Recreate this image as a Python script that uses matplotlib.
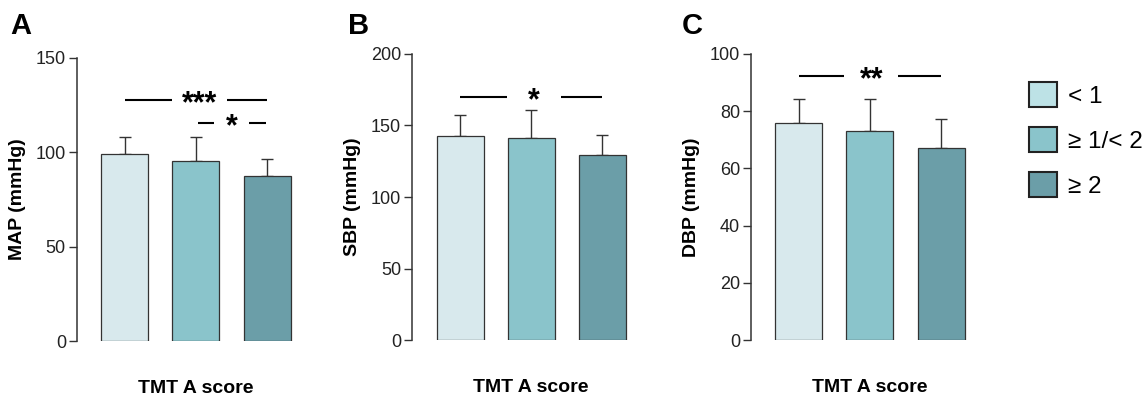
import matplotlib
matplotlib.use("Agg")
import matplotlib.pyplot as plt
from matplotlib.patches import Patch

plt.rcParams['font.family'] = ['Liberation Sans', 'DejaVu Sans']

# -------------------------
# Data
# -------------------------
groups = ['< 1', '≥ 1/< 2', '≥ 2']

map_mean = [99.1, 95.5, 87.4]
map_sd = [9.2, 12.4, 8.9]

sbp_mean = [142.6, 141.2, 129.5]
sbp_sd = [14.4, 19.3, 13.6]

dbp_mean = [75.9, 73.1, 67.0]
dbp_sd = [8.4, 11.1, 10.3]

panel_letters = ['A', 'B', 'C']
ylabels = ['MAP (mmHg)', 'SBP (mmHg)', 'DBP (mmHg)']
ylims = [150, 200, 100]
yticks = [[0, 50, 100, 150], [0, 50, 100, 150, 200], [0, 20, 40, 60, 80, 100]]

# significance brackets per panel: (x0, x1, y, label, text_x, gap)
sig_a = [(0, 2, 127.9, '***', 1.05, 0.38), (1.03, 1.98, 115.4, '*', 1.5, 0.24)]
sig_b = [(0, 2, 169.6, '*', 1.04, 0.38)]
sig_c = [(0, 2, 92.3, '**', 1.02, 0.38)]

COLORS = ['#d8e9ed', '#8ac4cb', '#6b9ea8']
LEGEND_COLORS = ['#bde2e6', '#8ac4cb', '#6b9ea8']
EDGE = '#333333'
STAR_FS = 22

# -------------------------
# Figure
# -------------------------
W, H = 1146, 397
fig = plt.figure(figsize=(W / 100, H / 100), dpi=100)

# axes geometry in pixels: left, y0 pixel, ytop pixel
geom = [(77, 341, 58), (412.3, 340.3, 53.7), (751, 340.3, 53.7)]
unit_px = 71.2
xlim = (-0.67, 2.67)
ax_w = (xlim[1] - xlim[0]) * unit_px

panels = [(map_mean, map_sd, sig_a), (sbp_mean, sbp_sd, sig_b), (dbp_mean, dbp_sd, sig_c)]

for i, (means, sds, sigs) in enumerate(panels):
    left, y0, ytop = geom[i]
    ax = fig.add_axes([left / W, 1 - y0 / H, ax_w / W, (y0 - ytop) / H])
    x = list(range(len(means)))
    ax.bar(x, means, width=0.66, color=COLORS, edgecolor=EDGE, linewidth=0.9, zorder=2)
    ax.errorbar(x, means, yerr=[[0] * len(sds), sds], fmt='none', ecolor=EDGE,
                elinewidth=1.0, capsize=4, capthick=1.0, zorder=1)

    ax.set_xlim(*xlim)
    ax.set_ylim(0, ylims[i])
    ax.set_yticks(yticks[i])
    ax.set_xticks([])
    for s in ['top', 'right', 'bottom']:
        ax.spines[s].set_visible(False)
    ax.spines['left'].set_color(EDGE)
    ax.spines['left'].set_linewidth(1.1)
    ax.tick_params(axis='y', direction='out', length=6, width=1.0, color=EDGE,
                   labelsize=13, pad=2, labelcolor='#222222')
    ax.set_ylabel(ylabels[i], fontsize=14, fontweight='bold', labelpad=7)
    ax.set_xlabel('TMT A score', fontsize=14, fontweight='bold', labelpad=28)

    # significance lines
    for (x0, x1, y, lab, tx, gap) in sigs:
        ax.plot([x0, tx - gap], [y, y], color='black', lw=1.5, solid_capstyle='butt', clip_on=False)
        ax.plot([tx + gap, x1], [y, y], color='black', lw=1.5, solid_capstyle='butt', clip_on=False)
        ax.annotate(lab, (tx, y), xytext=(0, -0.4 * STAR_FS), textcoords='offset points',
                    ha='center', va='baseline', fontsize=STAR_FS, fontweight='bold')

    # panel letter
    fig.text([10, 348, 682][i] / W, 1 - 34 / H, panel_letters[i], fontsize=21,
             fontweight='bold', ha='left', va='baseline')

handles = [Patch(facecolor=c, edgecolor='#222222', linewidth=1.5) for c in LEGEND_COLORS]
fig.legend(handles, groups, loc='upper left', bbox_to_anchor=(1029 / W, 1 - 82 / H),
           frameon=False, fontsize=17.5, handlelength=1.15, handleheight=1.2,
           handletextpad=0.45, labelspacing=0.8, borderpad=0, borderaxespad=0)

fig.savefig('out.png', dpi=100)
